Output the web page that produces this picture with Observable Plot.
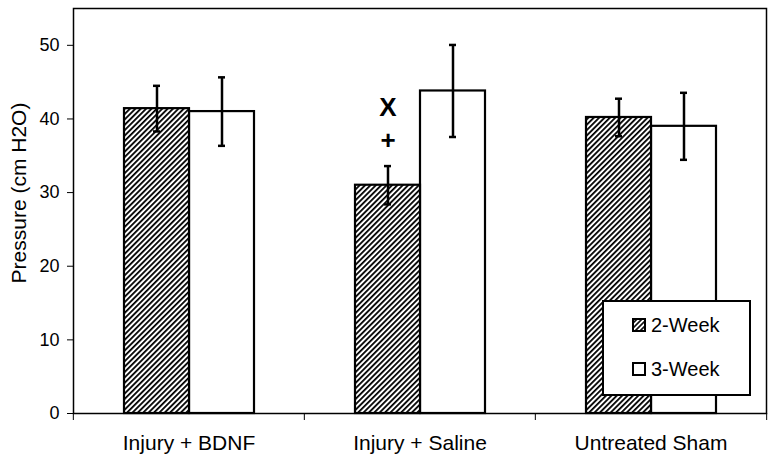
<!DOCTYPE html>
<html><head><meta charset="utf-8">
<script src="https://cdn.jsdelivr.net/npm/d3@7"></script>
<script src="https://cdn.jsdelivr.net/npm/@observablehq/plot@0.6"></script>
<style>
body{margin:0;background:#fff;}
#wrap{position:relative;width:774px;height:461px;font-family:"Liberation Sans",Arial,sans-serif;}
#legend{position:absolute;left:602px;top:300px;width:145px;height:92px;border:2px solid #000;background:#fff;}
.item{position:absolute;left:28px;height:24px;display:flex;align-items:center;font-size:20px;color:#000;white-space:nowrap;}
.item svg{margin-right:5px;}
</style></head><body><div id="wrap"></div>
<script>
const categories = ["Injury + BDNF", "Injury + Saline", "Untreated Sham"];
const seriesNames = ["2-Week", "3-Week"];
const week2 = [41.4, 31.0, 40.2];
const week3 = [41.0, 43.8, 39.0];
const err2 = [3.1, 2.6, 2.55];
const err3 = [4.65, 6.25, 4.55];
const annotSymbols = ["X", "+"];
const annotValues = [41.5, 37.0];
const annotCategory = "Injury + Saline";
const annotSeries = "2-Week";
const yTicks = [0, 10, 20, 30, 40, 50];
const yLabel = "Pressure (cm H2O)";

const rows = [];
categories.forEach((c, i) => {
  rows.push({cat: c, series: seriesNames[0], value: week2[i], err: err2[i]});
  rows.push({cat: c, series: seriesNames[1], value: week3[i], err: err3[i]});
});
const annots = annotSymbols.map((s, i) => ({cat: annotCategory, series: annotSeries, sym: s, value: annotValues[i]}));

const W = 774, H = 461, mL = 72, mR = 8, mT = 8, mB = 48;
const half = (W - mL - mR) / categories.length / 2;

const chart = Plot.plot({
  width: W, height: H,
  marginLeft: mL, marginRight: mR, marginTop: mT, marginBottom: mB,
  style: {fontFamily: "'Liberation Sans', Arial, sans-serif", color: "#000", background: "white"},
  fx: {domain: categories, padding: 0},
  x: {domain: seriesNames, paddingInner: 0, paddingOuter: 0.752, axis: null},
  y: {domain: [0, 55]},
  marks: [
    Plot.barY(rows.filter(d => d.series === seriesNames[1]), {fx: "cat", x: "series", y: "value", fill: "white", stroke: "black", strokeWidth: 2.2}),
    Plot.barY(rows.filter(d => d.series === seriesNames[0]), {fx: "cat", x: "series", y: "value", fill: "url(#hatch)", stroke: "black", strokeWidth: 2.2}),
    Plot.ruleX(rows, {fx: "cat", x: "series", y1: d => d.value - d.err, y2: d => d.value + d.err, stroke: "black", strokeWidth: 2.5}),
    Plot.tickY(rows, {fx: "cat", x: "series", y: d => d.value - d.err, insetLeft: 29, insetRight: 29, stroke: "black", strokeWidth: 2.5}),
    Plot.tickY(rows, {fx: "cat", x: "series", y: d => d.value + d.err, insetLeft: 29, insetRight: 29, stroke: "black", strokeWidth: 2.5}),
    Plot.text(annots, {fx: "cat", x: "series", y: "value", text: "sym", fontSize: 26, fontWeight: "bold", fill: "black"}),
    Plot.frame({facet: "super", stroke: "black", strokeWidth: 1.5}),
    Plot.axisY({ticks: yTicks, tickSize: 6, tickPadding: 8, fontSize: 18, label: null}),
    Plot.text([{cat: categories[0], label: yLabel}], {fx: "cat", text: "label", frameAnchor: "left", textAnchor: "middle", rotate: -90, dx: -54, dy: -18, fontSize: 21, fill: "black"}),
    Plot.axisFx({anchor: "bottom", tickSize: 0, tickPadding: 22, fontSize: 21, label: null}),
    Plot.axisFx({anchor: "bottom", tickSize: 7, tickFormat: () => "", dx: -half, label: null}),
    Plot.axisFx({anchor: "bottom", ticks: [categories[2]], tickSize: 7, tickFormat: () => "", dx: half, label: null})
  ]
});

const defs = d3.select(chart).insert("defs", ":first-child");
const pat = defs.append("pattern").attr("id", "hatch").attr("patternUnits", "userSpaceOnUse")
  .attr("width", 3.8).attr("height", 3.8).attr("patternTransform", "rotate(45)");
pat.append("rect").attr("width", 3.8).attr("height", 3.8).attr("fill", "white");
pat.append("line").attr("x1", 0.9).attr("y1", 0).attr("x2", 0.9).attr("y2", 3.8).attr("stroke", "black").attr("stroke-width", 1.8);

const wrap = document.getElementById("wrap");
wrap.appendChild(chart);

const legend = d3.select(wrap).append("div").attr("id", "legend");
const legendTops = [11, 55];
seriesNames.forEach((s, i) => {
  const item = legend.append("div").attr("class", "item").style("top", legendTops[i] + "px");
  const sw = item.append("svg").attr("width", 14).attr("height", 14);
  if (i === 0) {
    const p = sw.append("defs").append("pattern").attr("id", "hatchL").attr("patternUnits", "userSpaceOnUse")
      .attr("width", 3.5).attr("height", 3.5).attr("patternTransform", "rotate(45)");
    p.append("rect").attr("width", 3.5).attr("height", 3.5).attr("fill", "white");
    p.append("line").attr("x1", 0.8).attr("y1", 0).attr("x2", 0.8).attr("y2", 3.5).attr("stroke", "black").attr("stroke-width", 1.6);
  }
  sw.append("rect").attr("x", 1).attr("y", 1).attr("width", 12).attr("height", 12)
    .attr("fill", i === 0 ? "url(#hatchL)" : "white").attr("stroke", "black").attr("stroke-width", 2);
  item.append("span").text(s);
});
</script>
</body></html>
